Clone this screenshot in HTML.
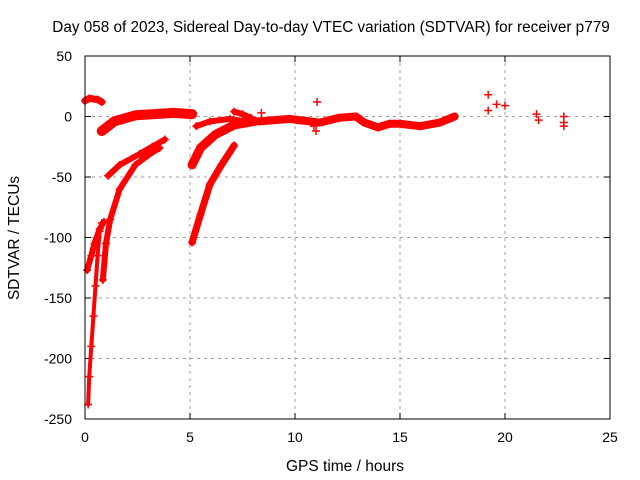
<!DOCTYPE html>
<html><head><meta charset="utf-8"><style>
body{margin:0;background:#fff;}
svg{display:block;font-family:"Liberation Sans",sans-serif;}
</style></head><body>
<svg id="c" width="640" height="480">
<text x="331" y="32" text-anchor="middle" font-size="15.3">Day 058 of 2023, Sidereal Day-to-day VTEC variation (SDTVAR) for receiver p779</text>
<text x="345" y="471" text-anchor="middle" font-size="15.5">GPS time / hours</text>
<text transform="translate(19,238) rotate(-90)" text-anchor="middle" font-size="15.5">SDTVAR / TECUs</text>
<g id="grid"></g><g id="ticks"></g><g id="marks"></g>
<rect x="85" y="56" width="525" height="363" fill="none" stroke="#000" stroke-width="1"/>
</svg>
<script>
const xTicks=[0,5,10,15,20,25];
const yTicks=[50,0,-50,-100,-150,-200,-250];
const trackA=[[0.15,-238],[0.2,-215],[0.3,-190],[0.4,-165],[0.5,-140],[0.6,-115],[0.7,-95],[0.8,-88]];
const trackA2=[[0.1,-127],[0.3,-115],[0.45,-105],[0.7,-93],[0.9,-87]];
const trackB=[[0.85,-135],[1.0,-105],[1.2,-85],[1.65,-60],[2.4,-40],[3.0,-32],[3.55,-26]];
const trackC=[[1.1,-49],[1.65,-40],[2.6,-31],[3.2,-25],[3.8,-19]];
const trackD=[[0.8,-12],[1.4,-4],[2.4,1],[3.3,2],[4.2,3],[5.1,2]];
const trackE=[[0,13],[0.2,15],[0.6,14],[0.8,12]];
const trackF=[[5.1,-104],[5.5,-81],[5.95,-56],[6.5,-40],[7.1,-24]];
const trackG=[[5.1,-40],[5.5,-26],[6.2,-15],[7.1,-7],[8.1,-4]];
const trackH=[[5.3,-8],[5.95,-4],[6.9,-2],[7.6,-4]];
const trackI=[[7.1,4],[7.5,2],[7.9,-1]];
const trackJ=[[8.3,-4],[9.75,-2],[10.2,-3],[11.2,-5],[12.1,-1],[12.9,0],[13.3,-5],[13.95,-9],[14.5,-6],[15,-6],[15.95,-8],[16.9,-5],[17.6,0]];
const scatter=[[11.05,12],[11.0,-12],[10.9,-8],[8.4,3],[19.2,18],[19.2,5],[19.6,10],[20.0,9],[21.5,2],[21.6,-3],[22.8,0],[22.8,-5],[22.8,-8]];
const tracks=[trackA,trackA2,trackB,trackC,trackD,trackE,trackF,trackG,trackH,trackI,trackJ];
const widths=[4,6,6,6,10,7,7,9,6,6,8];
const X=h=>85+h*21, Y=v=>116.5-v*1.21;
const NS='http://www.w3.org/2000/svg';
function mk(t,a,p){const e=document.createElementNS(NS,t);for(const k in a)e.setAttribute(k,a[k]);p.appendChild(e);return e;}
const grid=document.getElementById('grid'),ticks=document.getElementById('ticks'),marks=document.getElementById('marks');
xTicks.forEach(t=>{const x=X(t);
 if(t>0&&t<25){const l=mk('line',{x1:x,x2:x,y1:56,y2:419,stroke:'#a0a0a0','stroke-dasharray':'3,4'},grid);
 
 }
 mk('line',{x1:x,x2:x,y1:419,y2:413,stroke:'#000'},ticks);mk('line',{x1:x,x2:x,y1:56,y2:62,stroke:'#000'},ticks);
 const tx=mk('text',{x:x,y:442,'text-anchor':'middle','font-size':14},ticks);tx.textContent=t;
 
 });
yTicks.forEach(t=>{const y=Y(t);
 if(t<50&&t>-250){const l=mk('line',{x1:85,x2:610,y1:y,y2:y,stroke:'#a0a0a0','stroke-dasharray':'3,4'},grid);
 
 }
 mk('line',{x1:85,x2:91,y1:y,y2:y,stroke:'#000'},ticks);mk('line',{x1:610,x2:604,y1:y,y2:y,stroke:'#000'},ticks);
 const tx=mk('text',{x:72,y:y+5,'text-anchor':'end','font-size':14},ticks);tx.textContent=t;
 
 });
function plus(h,v){const x=X(h),y=Y(v);
 const p=mk('path',{d:`M${x-4} ${y}H${x+4}M${x} ${y-4}V${y+4}`,stroke:'red','stroke-width':1.5},marks);
 
 }
tracks.forEach((tr,i)=>{
 const pl=mk('polyline',{points:tr.map(p=>X(p[0])+','+Y(p[1])).join(' '),fill:'none',stroke:'red','stroke-width':widths[i],'stroke-linejoin':'round','stroke-linecap':'round'},marks);
 
 
 tr.forEach(p=>plus(p[0],p[1]));});
scatter.forEach(p=>plus(p[0],p[1]));
</script>
</body></html>
